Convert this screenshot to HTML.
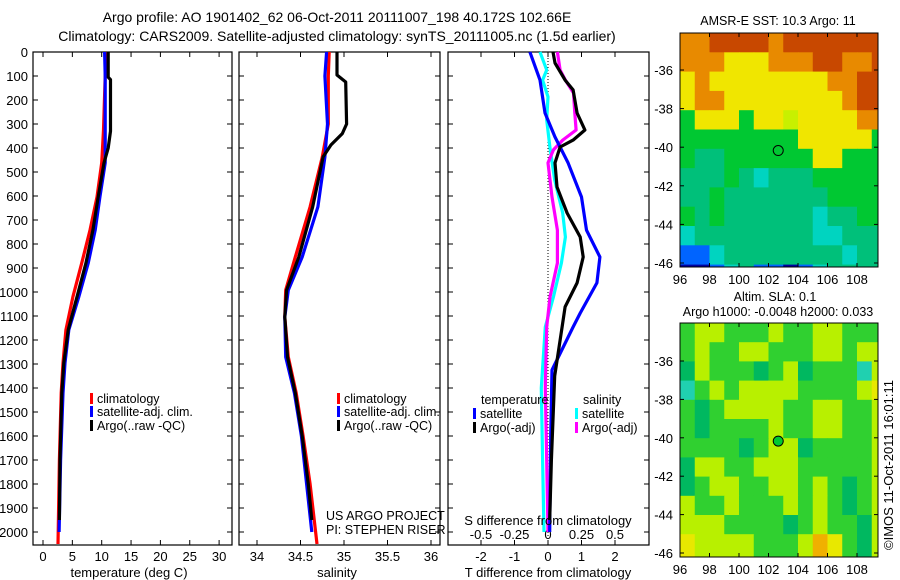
<!DOCTYPE html>
<html><head><meta charset="utf-8">
<style>
html,body{margin:0;padding:0;background:#fff;}
svg{display:block;font-family:"Liberation Sans",sans-serif;}
</style></head>
<body>
<svg id="c" width="900" height="580" viewBox="0 0 900 580" xmlns="http://www.w3.org/2000/svg">
<text x="337" y="22" font-size="14" text-anchor="middle">Argo profile: AO 1901402_62 06-Oct-2011 20111007_198 40.172S 102.66E</text>
<text x="337" y="41" font-size="14" text-anchor="middle">Climatology: CARS2009. Satellite-adjusted climatology: synTS_20111005.nc (1.5d earlier)</text>
</svg>
<script>
// ---------- data ----------
const depthTicks=[0,100,200,300,400,500,600,700,800,900,1000,1100,1200,1300,1400,1500,1600,1700,1800,1900,2000];
const tempTicks=[0,5,10,15,20,25,30];
const salTicks=[34,34.5,35,35.5,36];
const tdiffTicks=[-2,-1,0,1,2];
const sdiffTicks=[-0.5,-0.25,0,0.25,0.5];
const sdiffTickLabels=["-0.5","-0.25","0","0.25","0.5"];
// temperature profiles [depth, value]
const tempClim=[[0,10.7],[100,10.6],[325,10.3],[462,10.0],[604,9.2],[742,8.0],[880,6.6],[1020,5.1],[1158,3.9],[1296,3.4],[1421,3.1],[1700,2.8],[2050,2.55]];
const tempSat=[[0,10.5],[100,10.6],[325,10.6],[462,10.6],[604,9.7],[742,8.9],[880,7.7],[1020,6.1],[1158,4.4],[1296,3.75],[1421,3.4],[1700,3.0],[2000,2.75]];
const tempArgo=[[0,11.1],[105,11.1],[115,11.5],[330,11.5],[400,11.1],[462,10.4],[604,9.4],[742,8.5],[880,7.3],[1020,5.8],[1158,4.3],[1296,3.55],[1421,3.2],[1700,2.9],[1950,2.8]];
// salinity profiles
const salClim=[[0,34.83],[100,34.82],[300,34.82],[437,34.75],[645,34.61],[854,34.44],[992,34.33],[1104,34.32],[1271,34.36],[1421,34.45],[1600,34.53],[1800,34.61],[2050,34.69]];
const salSat=[[0,34.8],[100,34.78],[300,34.81],[437,34.78],[645,34.70],[854,34.52],[992,34.36],[1104,34.32],[1271,34.33],[1421,34.43],[1600,34.51],[1800,34.57],[2000,34.63]];
const salArgo=[[0,34.92],[96,34.92],[125,35.02],[300,35.03],[340,34.98],[387,34.85],[437,34.76],[645,34.64],[854,34.48],[992,34.34],[1104,34.32],[1271,34.35],[1421,34.44],[1600,34.52],[1800,34.59],[1950,34.63]];
// differences
const tdSat=[[0,-0.54],[117,-0.24],[254,-0.09],[354,0.21],[462,0.6],[604,1.0],[742,1.15],[854,1.55],[962,1.46],[1088,0.96],[1146,0.75],[1325,0.12],[1600,0.08],[2000,0.05]];
const tdArgo=[[0,0.15],[46,0.21],[117,0.51],[158,0.75],[254,0.87],[325,1.1],[367,0.75],[396,0.36],[462,0.21],[562,0.27],[671,0.57],[771,0.96],[854,1.05],[962,0.87],[1062,0.51],[1146,0.42],[1350,0.2],[1700,0.1],[1950,0.05]];
const sdSat=[[0,-0.06],[75,-0.01],[117,-0.04],[187,0],[283,-0.01],[400,0.015],[533,0.05],[671,0.11],[771,0.13],[879,0.10],[1021,0.04],[1146,-0.02],[1400,-0.05],[1700,-0.04],[2000,-0.03]];
const sdArgo=[[0,0.07],[75,0.09],[117,0.13],[171,0.19],[254,0.2],[325,0.21],[367,0.11],[408,0.04],[462,0],[604,0.03],[742,0.07],[879,0.07],[1021,0.015],[1146,-0.01],[1400,-0.02],[1700,-0.01],[2000,0]];
// maps
const lonTicks=[96,98,100,102,104,106,108];
const latTicks=[-36,-38,-40,-42,-44,-46];
const sstRows=["OORRRRORRRRRRR","OOOYYYOOORROOR","YOYYYYYYYYOORR","YOOYYYYYYYYORR","GYYYGYYLYYYYOO","GGGGGGGGYYYYYG","GTTGGGGGGYYGGG","TTTGTCTTTGGGGG","TTGTTTTTTTGGGG","GTGTTTTTTCTTGG","CTTTTTTTTCCTTT","BBCTTTTTTTTCTT","NNBCTBBNBCTTTT"];
const slaRows=["GLLGGGLGGLLGGG","GLGGLLGGGLLGLL","DLGGGDGLDGGGCL","CGLGLLLLGGGGLY","GDGLLLLGGLLGGL","GDGGGGLGGLLGGL","GGGGDGLLDGGGGL","DLLGGLLLGGGGGL","DGLLGGLLGLGDGL","LGGLGGGLGLGDGL","LLLGGGGDGLGGDL","YLLLLGGGLOYGDL"];
const floatLon=102.66, floatLat=-40.172;

// ---------- helpers ----------
const svg=document.getElementById('c');
const NS="http://www.w3.org/2000/svg";
function mk(tag,attrs,parent){const e=document.createElementNS(NS,tag);for(const k in attrs)e.setAttribute(k,attrs[k]);(parent||svg).appendChild(e);return e;}
function txt(x,y,s,size,anchor,parent){const t=mk('text',{x:x,y:y,'font-size':size,'text-anchor':anchor||'middle'},parent);t.textContent=s;return t;}
const Y0=52, Ybot=545;
const yD=d=>Y0+d*0.24;
const xT=v=>43+v*5.87;
const xS=v=>257+(v-34)*87;
const xTd=v=>548+v*33.5;
const xSd=v=>548+v*134;

function panel(l,r,name){
  const g=mk('g',{});
  
  
  mk('rect',{x:l,y:Y0,width:r-l,height:Ybot-Y0,fill:'none',stroke:'#000','stroke-width':1.2},g);
  depthTicks.forEach(d=>{const y=yD(d);mk('line',{x1:l,y1:y,x2:l+5,y2:y,stroke:'#000'},g);mk('line',{x1:r,y1:y,x2:r-5,y2:y,stroke:'#000'},g);});
  return g;
}
function xticks(g,ticks,fx,labels,ly){
  ticks.forEach((v,i)=>{const x=fx(v);mk('line',{x1:x,y1:Y0,x2:x,y2:Y0+5,stroke:'#000'},g);mk('line',{x1:x,y1:Ybot,x2:x,y2:Ybot-5,stroke:'#000'},g);
    const t=txt(x,ly,labels?labels[i]:String(v),13,'middle',g);
    });
}
function line(g,data,fx,color,name){
  const p=mk('polyline',{points:data.map(d=>fx(d[1]).toFixed(1)+','+yD(d[0]).toFixed(1)).join(' '),fill:'none',stroke:color,'stroke-width':3.2,'stroke-linejoin':'round'},g);
  
  
}
function legendEntry(g,x,y,color,label){
  const e=mk('g',{},g);
  
  
  mk('rect',{x:x,y:y-10,width:3,height:11,fill:color},e);
  txt(x+7,y,label,12.5,'start',e);
}

// ---------- panel 1: temperature ----------
const p1=panel(33,232,'temperature-panel');
depthTicks.forEach(d=>{const t=txt(28,yD(d)+5,String(d),13,'end',p1);});
xticks(p1,tempTicks,xT,null,561);
line(p1,tempClim,xT,'#ff0000','temp-climatology-line');
line(p1,tempSat,xT,'#0000ff','temp-satellite-line');
line(p1,tempArgo,xT,'#000000','temp-argo-line');
const t1=txt(129,577,'temperature (deg C)',13,'middle',p1);
legendEntry(p1,90,403,'#ff0000','climatology');
legendEntry(p1,90,416,'#0000ff','satellite-adj. clim.');
legendEntry(p1,90,430,'#000000','Argo(..raw -QC)');

// ---------- panel 2: salinity ----------
const p2=panel(239,440,'salinity-panel');
xticks(p2,salTicks,xS,null,561);
line(p2,salClim,xS,'#ff0000','sal-climatology-line');
line(p2,salSat,xS,'#0000ff','sal-satellite-line');
line(p2,salArgo,xS,'#000000','sal-argo-line');
const t2=txt(337,577,'salinity',13,'middle',p2);
legendEntry(p2,337,403,'#ff0000','climatology');
legendEntry(p2,337,416,'#0000ff','satellite-adj. clim.');
legendEntry(p2,337,430,'#000000','Argo(..raw -QC)');
const pr=txt(326,520,'US ARGO PROJECT',12.5,'start',p2);
const pi=txt(326,534,'PI: STEPHEN RISER',12.5,'start',p2);

// ---------- panel 3: differences ----------
const p3=panel(448,649,'difference-panel');
xticks(p3,tdiffTicks,xTd,null,561);
sdiffTicks.forEach((v,i)=>{const t=txt(xSd(v),539,sdiffTickLabels[i],13,'middle',p3);});
mk('line',{x1:xTd(0),y1:Y0,x2:xTd(0),y2:Ybot,stroke:'#000','stroke-dasharray':'1,2'},p3);
line(p3,sdSat,xSd,'#00ffff','sdiff-satellite-line');
line(p3,sdArgo,xSd,'#ff00ff','sdiff-argo-line');
line(p3,tdSat,xTd,'#0000ff','tdiff-satellite-line');
line(p3,tdArgo,xTd,'#000000','tdiff-argo-line');
const t3=txt(548,577,'T difference from climatology',13,'middle',p3);
const t4=txt(548,525,'S difference from climatology',13,'middle',p3);
txt(481,404,'temperature',12.5,'start',p3);
legendEntry(p3,473,418,'#0000ff','satellite');
legendEntry(p3,473,432,'#000000','Argo(-adj)');
txt(583,404,'salinity',12.5,'start',p3);
legendEntry(p3,575,418,'#00ffff','satellite');
legendEntry(p3,575,432,'#ff00ff','Argo(-adj)');

// ---------- maps ----------
const sstCol={R:'#c84800',O:'#e88a00',Y:'#f0e600',L:'#c8f000',G:'#00c832',T:'#00c07a',C:'#00d4c0',B:'#0064ff',N:'#0000a0'};
const slaCol={G:'#30d030',L:'#b8f000',D:'#00b860',C:'#20d0b0',Y:'#e8e800',O:'#f0b000'};
function map(top,bot,lat36y,lat46y,rows,cols,name){
  const g=mk('g',{});
  
  
  const L=680,R=878;
  const xL=lon=>680+(lon-96)*14.75;
  const pxDeg=(lat46y-lat36y)/10;
  const yL=lat=>lat36y+(-36-lat)*pxDeg;
  const topLat=-36+(lat36y-top)/pxDeg;
  const cp=mk('clipPath',{id:name+'-clip'},g);
  mk('rect',{x:L,y:top,width:R-L,height:bot-top},cp);
  const cells=mk('g',{'clip-path':'url(#'+name+'-clip)'},g);
  rows.forEach((row,i)=>{for(let j=0;j<row.length;j++){
    const y1=yL(topLat-i),y2=yL(topLat-i-1);
    mk('rect',{x:xL(96+j),y:y1,width:15.2,height:(i==rows.length-1?bot-y1+2:y2-y1+0.5),fill:cols[row[j]]},cells);
  }});
  mk('rect',{x:L,y:top,width:R-L,height:bot-top,fill:'none',stroke:'#000'},g);
  latTicks.forEach(v=>{const y=yL(v);mk('line',{x1:L,y1:y,x2:L+4,y2:y,stroke:'#000'},g);mk('line',{x1:R,y1:y,x2:R-4,y2:y,stroke:'#000'},g);
    const t=txt(673,y+5,String(v),13,'end',g);});
  lonTicks.forEach(v=>{const x=xL(v);mk('line',{x1:x,y1:top,x2:x,y2:top+4,stroke:'#000'},g);mk('line',{x1:x,y1:bot,x2:x,y2:bot-4,stroke:'#000'},g);
    const t=txt(x,bot+17,String(v),13,'middle',g);});
  const c=mk('circle',{cx:xL(floatLon),cy:yL(floatLat),r:5,fill:'#00c832',stroke:'#000','stroke-width':1},g);
  
  
}
const mt1=txt(778,25,'AMSR-E SST: 10.3 Argo: 11',12.5,'middle');
map(33,267,70,263,sstRows,sstCol,'sst-map');
const mt2=txt(775,301,'Altim. SLA: 0.1',12.5,'middle');
const mt3=txt(778,316,'Argo h1000: -0.0048 h2000: 0.033',12.5,'middle');
map(323,557,361,553,slaRows,slaCol,'sla-map');
const cr=txt(0,0,'©IMOS 11-Oct-2011 16:01:11',13,'middle');
cr.setAttribute('transform','translate(893,465) rotate(-90)');


</script>
</body></html>
